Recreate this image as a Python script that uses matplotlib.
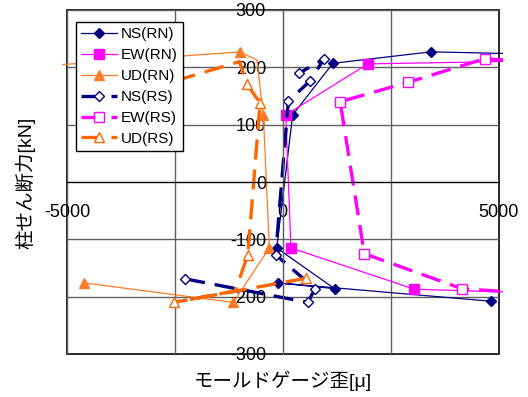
import matplotlib
matplotlib.use("Agg")
import matplotlib.pyplot as plt
from matplotlib.ticker import MultipleLocator
from matplotlib.transforms import Bbox, TransformedBbox

plt.rcParams['font.family'] = ['Liberation Sans', 'Noto Sans CJK JP', 'DejaVu Sans']

# ---- data (strain [μ], shear [kN]) ----
ns_rn_x = [4830, -115, 1200, -140, 230, 1160, 3430, 6500]
ns_rn_y = [-208, -176, -186, -115, 117, 207, 227, 222]

ew_rn_x = [7000, 3050, 190, 70, 1970, 8000]
ew_rn_y = [-196, -187, -115, 117, 206, 214]

ud_rn_x = [-4600, -1145, -310, -450, -600, -990, -6000]
ud_rn_y = [-176, -210, -115, 117, 213, 227, 200]
ud_rn_marked = [0, 1, 2, 3, 5, 6]

ns_rs_x = [-2260, 580, 750, -165, 130, 630, 960, 385]
ns_rs_y = [-169, -210, -186, -127, 141, 176, 215, 190]

ew_rs_x = [7000, 4150, 1890, 1330, 2910, 4680, 6000]
ew_rs_y = [-201, -186, -125, 140, 174, 215, 208]

ud_rs_x = [530, -2520, -1100, -810, -525, -835, -1000, -3000]
ud_rs_y = [-168, -210, -190, -127, 138, 171, 210, 165]
ud_rs_marked = [0, 1, 3, 4, 5, 7]

labels = ['NS(RN)', 'EW(RN)', 'UD(RN)', 'NS(RS)', 'EW(RS)', 'UD(RS)']
xlabel = 'モールドゲージ歪[μ]'
ylabel = '柱せん断力[kN]'

NAVY = '#000080'
MAG = '#FF00FF'
ORG = '#FF6600'
ORG_RN = '#FF7A26'

fig = plt.figure(figsize=(5.28, 3.97), dpi=100)
ax = fig.add_axes([67/528, 1-354/397, (498.5-67)/528, (354-10)/397])

ax.set_xlim(-5000, 5000)
ax.set_ylim(-300, 300)

ax.xaxis.set_major_locator(MultipleLocator(5000))
ax.xaxis.set_minor_locator(MultipleLocator(2500))
ax.yaxis.set_major_locator(MultipleLocator(100))
ax.grid(True, which='both', color='#606060', linewidth=1.0)
ax.set_axisbelow(True)

# frame
ax.patch.set_edgecolor('black')
ax.patch.set_linewidth(1.2)
ax.spines['top'].set_visible(False)
ax.spines['right'].set_visible(False)
ax.spines['left'].set_position(('data', 0))
ax.spines['bottom'].set_position(('data', 0))
ax.spines['left'].set_color('#606060')
ax.spines['bottom'].set_color('black')

ax.tick_params(which='both', length=0)
ax.tick_params(axis='y', pad=12, labelsize=13)
ax.tick_params(axis='x', pad=16, labelsize=13)
ax.set_yticks([-300, -200, -100, 0, 100, 200, 300])
ax.set_xticks([-5000, 0, 5000])
ax.set_xticklabels(['-5000', '0', '5000'])
ax.set_yticklabels(['-300', '-200', '-100', '0', '100', '200', '300'])

rn_kw = dict(linewidth=0.9, linestyle='-')
rs_kw = dict(linewidth=2.4, linestyle=(0, (6, 3)), markerfacecolor='white')

lines = []
lines += ax.plot(ns_rn_x, ns_rn_y, color=NAVY, marker='D', markersize=5.5, label=labels[0], **rn_kw)
lines += ax.plot(ew_rn_x, ew_rn_y, color=MAG, marker='s', markersize=7, label=labels[1], **rn_kw)
lines += ax.plot(ud_rn_x, ud_rn_y, color=ORG_RN, marker='^', markersize=7.5, markevery=ud_rn_marked,
                 label=labels[2], **rn_kw)
lines += ax.plot(ns_rs_x, ns_rs_y, color=NAVY, marker='D', markersize=5, markeredgewidth=1.0, label=labels[3], **rs_kw)
lines += ax.plot(ew_rs_x, ew_rs_y, color=MAG, marker='s', markersize=7, markeredgewidth=1.0, label=labels[4], **rs_kw)
lines += ax.plot(ud_rs_x, ud_rs_y, color=ORG, marker='^', markersize=7.5, markeredgewidth=1.0,
                 markevery=ud_rs_marked, label=labels[5], **rs_kw)

clip = TransformedBbox(Bbox.from_extents(-0.011, -0.01, 1.011, 1.01), ax.transAxes)
for l in lines:
    l.set_clip_box(clip)

leg = ax.legend(loc='upper left', bbox_to_anchor=(0.021, 0.965), fontsize=11,
                frameon=True, fancybox=False, edgecolor='black', framealpha=1,
                handlelength=2.3, handletextpad=0.3, borderpad=0.35,
                labelspacing=0.45, borderaxespad=0)
leg.get_frame().set_linewidth(1.0)
leg.set_zorder(10)

fig.text(25/528, 1-183/397, ylabel, rotation=90, ha='center', va='center', fontsize=14)
fig.text(283/528, 1-381/397, xlabel, ha='center', va='center', fontsize=14)

fig.savefig('out.png', dpi=100)
